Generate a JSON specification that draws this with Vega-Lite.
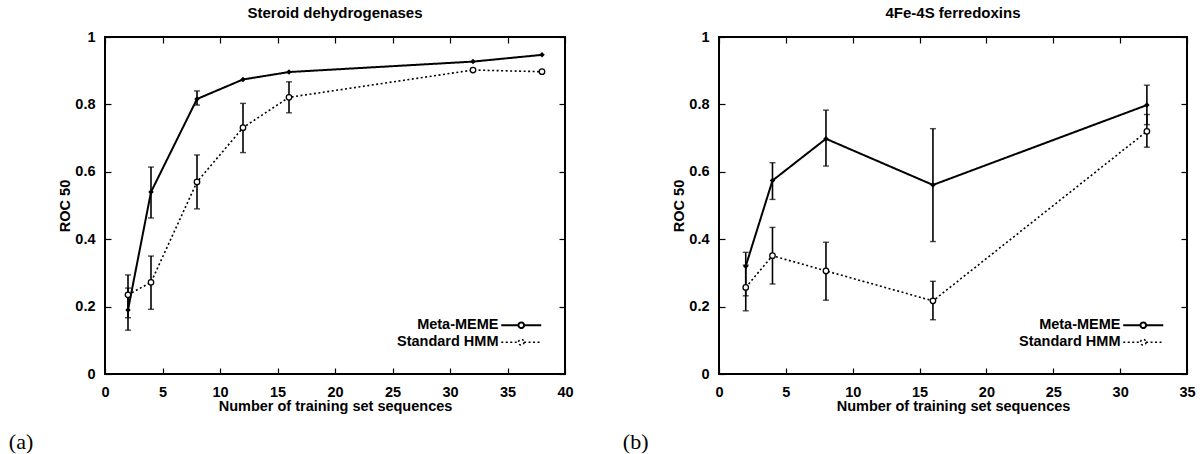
{
  "$schema": "https://vega.github.io/schema/vega-lite/v6.json",
  "padding": {"left": 8, "top": 5, "right": 5, "bottom": 2},
  "background": "white",
  "spacing": 47,
  "datasets": {
    "a": [
      {"series": "Meta-MEME", "n": 2, "roc": 0.19, "lo": 0.13, "hi": 0.255},
      {"series": "Meta-MEME", "n": 4, "roc": 0.54, "lo": 0.463, "hi": 0.614},
      {"series": "Meta-MEME", "n": 8, "roc": 0.816, "lo": 0.798, "hi": 0.84},
      {"series": "Meta-MEME", "n": 12, "roc": 0.874, "lo": null, "hi": null},
      {"series": "Meta-MEME", "n": 16, "roc": 0.896, "lo": null, "hi": null},
      {"series": "Meta-MEME", "n": 32, "roc": 0.927, "lo": null, "hi": null},
      {"series": "Meta-MEME", "n": 38, "roc": 0.947, "lo": null, "hi": null},
      {"series": "Standard HMM", "n": 2, "roc": 0.235, "lo": 0.167, "hi": 0.294},
      {"series": "Standard HMM", "n": 4, "roc": 0.272, "lo": 0.192, "hi": 0.35},
      {"series": "Standard HMM", "n": 8, "roc": 0.57, "lo": 0.49, "hi": 0.65},
      {"series": "Standard HMM", "n": 12, "roc": 0.731, "lo": 0.657, "hi": 0.803},
      {"series": "Standard HMM", "n": 16, "roc": 0.821, "lo": 0.775, "hi": 0.867},
      {"series": "Standard HMM", "n": 32, "roc": 0.902, "lo": null, "hi": null},
      {"series": "Standard HMM", "n": 38, "roc": 0.897, "lo": null, "hi": null}
    ],
    "b": [
      {"series": "Meta-MEME", "n": 2, "roc": 0.32, "lo": 0.232, "hi": 0.361},
      {"series": "Meta-MEME", "n": 4, "roc": 0.574, "lo": 0.518, "hi": 0.627},
      {"series": "Meta-MEME", "n": 8, "roc": 0.698, "lo": 0.617, "hi": 0.783},
      {"series": "Meta-MEME", "n": 16, "roc": 0.561, "lo": 0.393, "hi": 0.728},
      {"series": "Meta-MEME", "n": 32, "roc": 0.798, "lo": 0.74, "hi": 0.857},
      {"series": "Standard HMM", "n": 2, "roc": 0.257, "lo": 0.1875, "hi": 0.323},
      {"series": "Standard HMM", "n": 4, "roc": 0.351, "lo": 0.267, "hi": 0.435},
      {"series": "Standard HMM", "n": 8, "roc": 0.306, "lo": 0.219, "hi": 0.391},
      {"series": "Standard HMM", "n": 16, "roc": 0.217, "lo": 0.161, "hi": 0.275},
      {"series": "Standard HMM", "n": 32, "roc": 0.72, "lo": 0.673, "hi": 0.77}
    ]
  },
  "config": {
    "font": "Liberation Sans",
    "view": {"stroke": "black", "strokeWidth": 2},
    "axis": {
      "grid": false,
      "domain": false,
      "tickColor": "black",
      "tickSize": -6,
      "tickWidth": 1.2,
      "labelFont": "Liberation Sans",
      "labelFontSize": 14.5,
      "labelFontWeight": "bold",
      "labelColor": "black",
      "titleFont": "Liberation Sans",
      "titleFontSize": 14.5,
      "titleFontWeight": "bold",
      "titleColor": "black"
    },
    "axisX": {"labelPadding": 17, "titlePadding": 1, "labelFlush": false},
    "axisY": {"labelPadding": 16, "titlePadding": 2},
    "title": {"font": "Liberation Sans", "fontSize": 15, "fontWeight": "bold", "color": "black", "offset": 8},
    "legend": {
      "orient": "none",
      "labelAlign": "right",
      "labelFont": "Liberation Sans",
      "labelFontSize": 14.5,
      "labelFontWeight": "bold",
      "labelColor": "black",
      "rowPadding": 1,
      "padding": 0,
      "title": null,
      "symbolType": "M-5,0H-0.7M0.7,0H5M0.7,0A0.7,0.7 0 1,1 -0.7,0A0.7,0.7 0 1,1 0.7,0",
      "symbolSize": 64,
      "symbolStrokeWidth": 1.6,
      "symbolStrokeColor": "black",
      "symbolFillColor": "white",
      "labelOffset": -30
    }
  },
  "resolve": {"scale": {"x": "independent", "y": "independent", "strokeDash": "independent", "strokeWidth": "independent"}, "legend": {"strokeDash": "independent", "strokeWidth": "independent"}},
  "hconcat": [
    {
      "title": {"text": "(a)", "orient": "bottom", "anchor": "start", "frame": "bounds", "font": "Liberation Serif", "fontSize": 22, "fontWeight": "normal", "offset": 18, "dx": -48},
      "vconcat": [
        {
          "width": 460,
          "height": 337,
          "title": {"text": "Steroid dehydrogenases"},
          "data": {"name": "a"},
          "resolve": {"axis": {"x": "independent", "y": "independent"}},
          "layer": [
            {
              "encoding": {
                "x": {"field": "n", "type": "quantitative", "scale": {"domain": [0, 40]}, "axis": {"values": [0, 5, 10, 15, 20, 25, 30, 35, 40], "title": "Number of training set sequences"}}
              },
              "layer": [
                {
                  "transform": [{"filter": "isValid(datum.lo)"}],
                  "mark": {"type": "rule", "color": "black", "strokeWidth": 1.6},
                  "encoding": {
                    "y": {"field": "lo", "type": "quantitative", "scale": {"domain": [0, 1]}, "axis": {"values": [0, 0.2, 0.4, 0.6, 0.8, 1], "format": "~g", "title": "ROC 50"}},
                    "y2": {"field": "hi"}
                  }
                },
                {
                  "transform": [{"filter": "isValid(datum.lo)"}],
                  "mark": {"type": "tick", "orient": "horizontal", "color": "black", "size": 6, "thickness": 1.4},
                  "encoding": {"y": {"field": "lo", "type": "quantitative"}}
                },
                {
                  "transform": [{"filter": "isValid(datum.hi)"}],
                  "mark": {"type": "tick", "orient": "horizontal", "color": "black", "size": 6, "thickness": 1.4},
                  "encoding": {"y": {"field": "hi", "type": "quantitative"}}
                },
                {
                  "mark": {"type": "line", "color": "black"},
                  "encoding": {
                    "y": {"field": "roc", "type": "quantitative"},
                    "strokeDash": {
                      "field": "series", "type": "nominal",
                      "scale": {"domain": ["Meta-MEME", "Standard HMM"], "range": [[1, 0], [2, 2.5]]},
                      "legend": {"legendX": 409, "legendY": 281}
                    },
                    "strokeWidth": {"field": "series", "type": "nominal", "scale": {"domain": ["Meta-MEME", "Standard HMM"], "range": [2, 1.6]}, "legend": null}
                  }
                },
                {
                  "transform": [{"filter": "datum.series === 'Meta-MEME'"}],
                  "mark": {"type": "point", "shape": "diamond", "filled": true, "color": "black", "size": 30, "opacity": 1},
                  "encoding": {"y": {"field": "roc", "type": "quantitative"}}
                },
                {
                  "transform": [{"filter": "datum.series === 'Standard HMM'"}],
                  "mark": {"type": "point", "shape": "circle", "filled": true, "fill": "white", "stroke": "black", "strokeWidth": 1.3, "size": 30, "opacity": 1},
                  "encoding": {"y": {"field": "roc", "type": "quantitative"}}
                }
              ]
            },
            {
              "mark": {"type": "point", "opacity": 0},
              "encoding": {
                "x": {"field": "n", "type": "quantitative", "axis": {"orient": "top", "values": [0, 5, 10, 15, 20, 25, 30, 35, 40], "labels": false, "title": null}},
                "y": {"field": "roc", "type": "quantitative", "axis": {"orient": "right", "values": [0, 0.2, 0.4, 0.6, 0.8, 1], "labels": false, "title": null}}
              }
            }
          ]
        }
      ]
    },
    {
      "title": {"text": "(b)", "orient": "bottom", "anchor": "start", "frame": "bounds", "font": "Liberation Serif", "fontSize": 22, "fontWeight": "normal", "offset": 18, "dx": -48},
      "vconcat": [
        {
          "width": 468,
          "height": 337,
          "title": {"text": "4Fe-4S ferredoxins"},
          "data": {"name": "b"},
          "resolve": {"axis": {"x": "independent", "y": "independent"}},
          "layer": [
            {
              "encoding": {
                "x": {"field": "n", "type": "quantitative", "scale": {"domain": [0, 35]}, "axis": {"values": [0, 5, 10, 15, 20, 25, 30, 35], "title": "Number of training set sequences"}}
              },
              "layer": [
                {
                  "transform": [{"filter": "isValid(datum.lo)"}],
                  "mark": {"type": "rule", "color": "black", "strokeWidth": 1.6},
                  "encoding": {
                    "y": {"field": "lo", "type": "quantitative", "scale": {"domain": [0, 1]}, "axis": {"values": [0, 0.2, 0.4, 0.6, 0.8, 1], "format": "~g", "title": "ROC 50"}},
                    "y2": {"field": "hi"}
                  }
                },
                {
                  "transform": [{"filter": "isValid(datum.lo)"}],
                  "mark": {"type": "tick", "orient": "horizontal", "color": "black", "size": 6, "thickness": 1.4},
                  "encoding": {"y": {"field": "lo", "type": "quantitative"}}
                },
                {
                  "transform": [{"filter": "isValid(datum.hi)"}],
                  "mark": {"type": "tick", "orient": "horizontal", "color": "black", "size": 6, "thickness": 1.4},
                  "encoding": {"y": {"field": "hi", "type": "quantitative"}}
                },
                {
                  "mark": {"type": "line", "color": "black"},
                  "encoding": {
                    "y": {"field": "roc", "type": "quantitative"},
                    "strokeDash": {
                      "field": "series", "type": "nominal",
                      "scale": {"domain": ["Meta-MEME", "Standard HMM"], "range": [[1, 0], [2, 2.5]]},
                      "legend": {"legendX": 417, "legendY": 281}
                    },
                    "strokeWidth": {"field": "series", "type": "nominal", "scale": {"domain": ["Meta-MEME", "Standard HMM"], "range": [2, 1.6]}, "legend": null}
                  }
                },
                {
                  "transform": [{"filter": "datum.series === 'Meta-MEME'"}],
                  "mark": {"type": "point", "shape": "diamond", "filled": true, "color": "black", "size": 30, "opacity": 1},
                  "encoding": {"y": {"field": "roc", "type": "quantitative"}}
                },
                {
                  "transform": [{"filter": "datum.series === 'Standard HMM'"}],
                  "mark": {"type": "point", "shape": "circle", "filled": true, "fill": "white", "stroke": "black", "strokeWidth": 1.3, "size": 30, "opacity": 1},
                  "encoding": {"y": {"field": "roc", "type": "quantitative"}}
                }
              ]
            },
            {
              "mark": {"type": "point", "opacity": 0},
              "encoding": {
                "x": {"field": "n", "type": "quantitative", "axis": {"orient": "top", "values": [0, 5, 10, 15, 20, 25, 30, 35], "labels": false, "title": null}},
                "y": {"field": "roc", "type": "quantitative", "axis": {"orient": "right", "values": [0, 0.2, 0.4, 0.6, 0.8, 1], "labels": false, "title": null}}
              }
            }
          ]
        }
      ]
    }
  ]
}
